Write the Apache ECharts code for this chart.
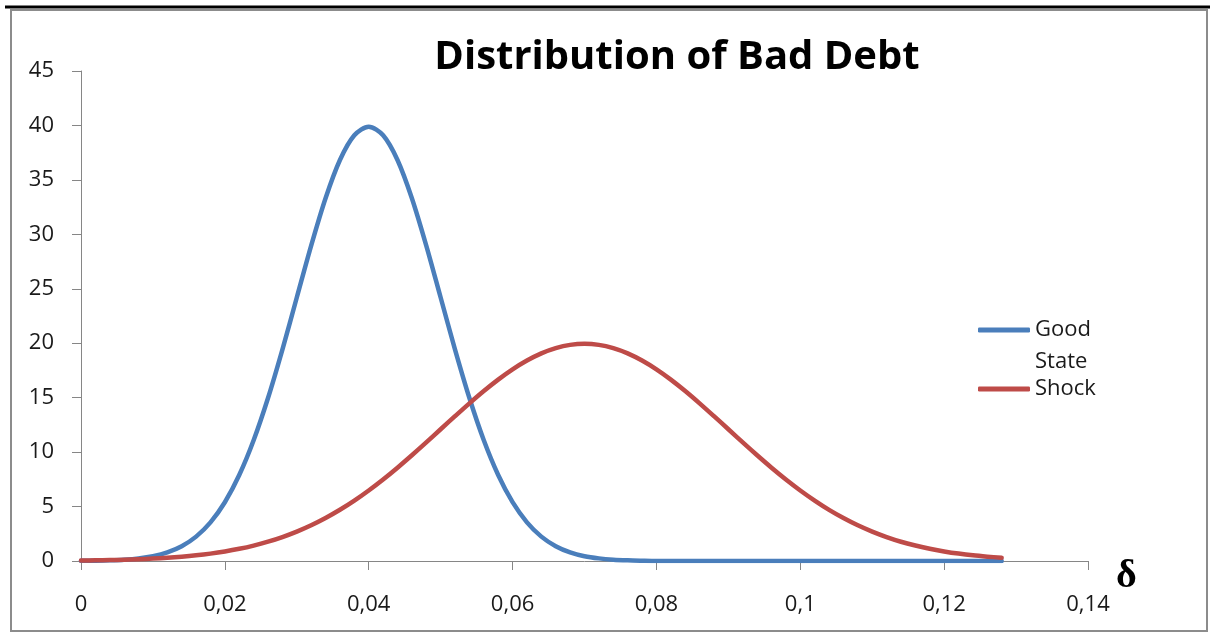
<!DOCTYPE html>
<html>
<head>
<meta charset="utf-8">
<title>Distribution of Bad Debt</title>
<script src="https://cdn.jsdelivr.net/npm/echarts@6/dist/echarts.min.js"></script>
<style>
  html, body { margin: 0; padding: 0; background: #ffffff; }
  #chart { width: 1210px; height: 633px; }
</style>
</head>
<body>
<div id="chart"></div>
<script>
// Bad-debt ratio (delta) sampled every 0.002
const delta = [
  0.000, 0.002, 0.004, 0.006, 0.008, 0.010, 0.012, 0.014, 0.016, 0.018,
  0.020, 0.022, 0.024, 0.026, 0.028, 0.030, 0.032, 0.034, 0.036, 0.038,
  0.040, 0.042, 0.044, 0.046, 0.048, 0.050, 0.052, 0.054, 0.056, 0.058,
  0.060, 0.062, 0.064, 0.066, 0.068, 0.070, 0.072, 0.074, 0.076, 0.078,
  0.080, 0.082, 0.084, 0.086, 0.088, 0.090, 0.092, 0.094, 0.096, 0.098,
  0.100, 0.102, 0.104, 0.106, 0.108, 0.110, 0.112, 0.114, 0.116, 0.118,
  0.120, 0.122, 0.124, 0.126, 0.128
];

// Density in the good state
const goodState = [
  0.013, 0.029, 0.061, 0.123, 0.238, 0.443, 0.792, 1.358, 2.239, 3.547,
  5.399, 7.895, 11.09, 14.97, 19.42, 24.20, 28.97, 33.32, 36.83, 39.10,
  39.89, 39.10, 36.83, 33.32, 28.97, 24.20, 19.42, 14.97, 11.09, 7.90,
  5.40, 3.55, 2.24, 1.36, 0.79, 0.44, 0.24, 0.12, 0.06, 0.03,
  0.01, 0.01, 0, 0, 0, 0, 0, 0, 0, 0,
  0, 0, 0, 0, 0, 0, 0, 0, 0, 0,
  0, 0, 0, 0, 0
];

// Density after a shock
const shock = [
  0.044, 0.062, 0.086, 0.119, 0.163, 0.222, 0.298, 0.396, 0.521, 0.679,
  0.876, 1.119, 1.416, 1.774, 2.200, 2.700, 3.282, 3.948, 4.702, 5.545,
  6.476, 7.486, 8.570, 9.710, 10.89, 12.10, 13.30, 14.48, 15.61, 16.66,
  17.60, 18.41, 19.07, 19.55, 19.85, 19.95, 19.85, 19.55, 19.07, 18.41,
  17.60, 16.66, 15.61, 14.48, 13.30, 12.10, 10.89, 9.71, 8.57, 7.49,
  6.48, 5.55, 4.70, 3.95, 3.28, 2.70, 2.20, 1.77, 1.42, 1.12,
  0.88, 0.68, 0.52, 0.40, 0.30
];

const seriesNames = ['Good State', 'Shock'];
const titleText = 'Distribution of Bad Debt';
const axisSymbol = 'δ';

const pairs = (ys) => delta.map((x, i) => [x, ys[i]]);
const decimalComma = (v) => String(parseFloat(v.toFixed(2))).replace('.', ',');

const labelFont = { fontFamily: 'Open Sans', fontSize: 22, color: '#1a1a1a' };
const axisGray = '#868686';

const chart = echarts.init(document.getElementById('chart'), null, { renderer: 'canvas' });

chart.setOption({
  backgroundColor: '#ffffff',
  animation: false,
  title: {
    text: titleText,
    left: 677,
    top: 38,
    textAlign: 'center',
    padding: 0,
    textStyle: { fontFamily: 'Open Sans', fontWeight: 'bold', fontSize: 40, color: '#000000' }
  },
  grid: { left: 81, right: 122, top: 71, bottom: 72, containLabel: false },
  xAxis: {
    type: 'value',
    min: 0, max: 0.14, interval: 0.02,
    axisLine: { show: true, lineStyle: { color: axisGray, width: 1 } },
    axisTick: { show: true, inside: false, length: 9, lineStyle: { color: axisGray } },
    splitLine: { show: false },
    axisLabel: Object.assign({ margin: 33, formatter: decimalComma }, labelFont)
  },
  yAxis: {
    type: 'value',
    min: 0, max: 45, interval: 5,
    axisLine: { show: true, lineStyle: { color: axisGray, width: 1 } },
    axisTick: { show: true, inside: false, length: 9, lineStyle: { color: axisGray } },
    splitLine: { show: false },
    axisLabel: Object.assign({ margin: 27 }, labelFont)
  },
  legend: {
    orient: 'vertical',
    left: 978,
    top: 319,
    padding: 0,
    itemWidth: 52,
    itemHeight: 5,
    itemGap: 37,
    icon: 'roundRect',
    data: seriesNames,
    formatter: (name) => name === 'Good State' ? 'Good' : name,
    textStyle: labelFont
  },
  graphic: [
    {
      type: 'rect',
      silent: true,
      shape: { x: 11, y: 10, width: 1196, height: 621 },
      style: { fill: 'none', stroke: '#8c8c8c', lineWidth: 2 }
    },
    {
      type: 'line',
      silent: true,
      shape: { x1: 5, y1: 7, x2: 1210, y2: 7 },
      style: { stroke: '#000000', lineWidth: 3 }
    },
    {
      type: 'text',
      silent: true,
      left: 1035,
      top: 351,
      style: { text: 'State', font: '22px "Open Sans"', fill: '#1a1a1a' }
    },
    {
      type: 'text',
      silent: true,
      left: 1116,
      top: 557,
      style: { text: axisSymbol, font: 'bold 40px "Liberation Serif"', fill: '#000000' }
    }
  ],
  series: [
    {
      name: seriesNames[0],
      type: 'line',
      data: pairs(goodState),
      smooth: 0.3,
      symbol: 'none',
      color: '#4a7ebb',
      lineStyle: { color: '#4a7ebb', width: 4.5, cap: 'round', join: 'round' }
    },
    {
      name: seriesNames[1],
      type: 'line',
      data: pairs(shock),
      smooth: 0.3,
      symbol: 'none',
      color: '#be4b48',
      lineStyle: { color: '#be4b48', width: 4.5, cap: 'round', join: 'round' }
    }
  ]
});
</script>
</body>
</html>
